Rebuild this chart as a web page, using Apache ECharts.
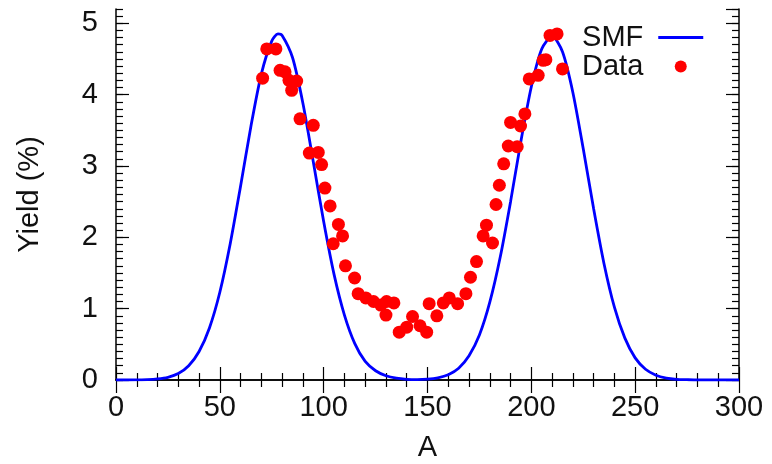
<!DOCTYPE html>
<html>
<head>
<meta charset="utf-8">
<script src="https://cdn.jsdelivr.net/npm/echarts@6/dist/echarts.min.js"></script>
<style>
  html, body { margin: 0; padding: 0; background: #fff; }
  #main { width: 772px; height: 464px; }
</style>
</head>
<body>
<div id="main"></div>
<script>
// SMF curve
var smfA = [0, 5, 10, 15, 20, 25, 30, 35, 40, 45, 50, 55, 60, 65, 70, 75, 78, 80, 85, 90, 95, 100,
  105, 110, 115, 120, 125, 130, 135, 140, 145, 150, 155, 160, 165, 170, 175, 180, 185, 190, 195,
  200, 205, 210, 215, 220, 225, 230, 235, 240, 245, 250, 255, 260, 265, 270, 275, 280, 285, 290, 295, 300];
var smfY = [0, 0, 0.002, 0.005, 0.015, 0.038, 0.09, 0.2, 0.4, 0.73, 1.23, 1.91, 2.72, 3.56, 4.29, 4.75, 4.85, 4.83, 4.52, 3.88, 3.06, 2.22,
  1.48, 0.91, 0.51, 0.26, 0.13, 0.06, 0.025, 0.01, 0.006, 0.012, 0.031, 0.074, 0.165, 0.34, 0.63, 1.09, 1.72, 2.5, 3.35,
  4.11, 4.64, 4.82, 4.6, 4.03, 3.24, 2.4, 1.63, 1.02, 0.59, 0.31, 0.15, 0.067, 0.027, 0.01, 0.004, 0, 0, 0, 0, 0];

// measured points
var dataA = [70.6, 72.6, 77.0, 79.0, 81.4, 83.3, 84.6, 87.0, 88.6, 93.1, 95.0, 97.4, 99.0, 100.6,
  103.1, 104.6, 107.1, 109.1, 110.5, 114.9, 116.6, 120.3, 124.0, 127.5, 130.3, 130.0, 133.8, 136.4,
  140.0, 142.8, 146.4, 149.6, 150.8, 154.5, 157.6, 160.5, 164.5, 168.5, 170.7, 173.6, 176.8, 178.4,
  181.3, 183.0, 184.6, 186.7, 188.9, 190.0, 193.2, 194.8, 196.9, 199.0, 203.3, 205.7, 207.0, 209.0, 212.4, 215.0];
var dataY = [4.23, 4.64, 4.64, 4.34, 4.32, 4.20, 4.06, 4.19, 3.66, 3.18, 3.57, 3.19, 3.02, 2.69,
  2.44, 1.91, 2.18, 2.02, 1.60, 1.43, 1.21, 1.15, 1.10, 1.05, 1.10, 0.91, 1.08, 0.67,
  0.74, 0.89, 0.76, 0.67, 1.07, 0.90, 1.08, 1.15, 1.07, 1.21, 1.44, 1.66, 2.02, 2.17,
  1.92, 2.46, 2.73, 3.03, 3.28, 3.61, 3.27, 3.56, 3.73, 4.22, 4.27, 4.48, 4.49, 4.83, 4.85, 4.36];

var xTicks = ['0', '50', '100', '150', '200', '250', '300'];
var yTicks = ['0', '1', '2', '3', '4', '5'];

var smfPts = smfA.map(function (a, i) { return [a, smfY[i]]; });
var dataPts = dataA.map(function (a, i) { return [a, dataY[i]]; });

var font = 'Liberation Sans, Arial, sans-serif';
var black = '#000';

var myChart = echarts.init(document.getElementById('main'));

function hiddenAxis(extra) {
  var ax = {
    type: 'value',
    axisLabel: { show: false },
    splitLine: { show: false },
    axisLine: { show: false },
    axisTick: { show: true, inside: true, length: 7, lineStyle: { color: black, width: 1.2 } }
  };
  for (var k in extra) ax[k] = extra[k];
  return ax;
}

option = {
  animation: false,
  textStyle: { fontFamily: font },
  grid: { left: 116, right: 33, top: 9, bottom: 84, outerBoundsMode: 'none' },
  legend: {
    orient: 'vertical',
    left: 577,
    top: 18,
    align: 'right',
    itemWidth: 45,
    itemHeight: 12,
    itemGap: 0,
    textStyle: { fontSize: 29, color: '#111', lineHeight: 28, padding: [0, 10, 0, 0] },
    data: [
      { name: 'SMF', icon: 'path://M0,0 L45,0 L45,3 L0,3 Z' },
      { name: 'Data', icon: 'circle' }
    ]
  },
  xAxis: [
    {
      type: 'value', min: 0, max: 300, interval: 50,
      name: 'A', nameLocation: 'middle', nameGap: 53,
      nameTextStyle: { fontSize: 29, color: '#111' },
      axisLine: { lineStyle: { color: black, width: 1.5 } },
      axisTick: { inside: true, length: 13, lineStyle: { color: black, width: 1.2 } },
      minorTick: { show: true, splitNumber: 5, length: 7, lineStyle: { color: black, width: 1.2 } },
      axisLabel: {
        fontSize: 29, color: '#111', margin: 13,
        formatter: function (v) { return xTicks[Math.round(v / 50)]; }
      },
      splitLine: { show: false }
    },
    {
      type: 'value', min: 0, max: 300, interval: 50, position: 'top',
      axisLine: { show: true, lineStyle: { color: black, width: 1.5 } },
      axisTick: { inside: true, length: 13, lineStyle: { color: black, width: 1.2 } },
      minorTick: { show: true, splitNumber: 5, length: 7, lineStyle: { color: black, width: 1.2 } },
      axisLabel: { show: false },
      splitLine: { show: false }
    }
  ],
  yAxis: [
    {
      type: 'value', min: 0, max: 5.2, interval: 1,
      name: 'Yield (%)', nameLocation: 'middle', nameGap: 72, nameRotate: 90,
      nameTextStyle: { fontSize: 29, color: '#111' },
      axisLine: { show: true, lineStyle: { color: black, width: 1.5 } },
      axisTick: { inside: true, length: 13, lineStyle: { color: black, width: 1.2 } },
      axisLabel: {
        fontSize: 29, color: '#111', margin: 18, showMaxLabel: false,
        formatter: function (v) { return yTicks[Math.round(v)] || ''; }
      },
      splitLine: { show: false }
    },
    hiddenAxis({ min: 0, max: 5.2, interval: 0.1, position: 'left' }),
    {
      type: 'value', min: 0, max: 5.2, interval: 1, position: 'right',
      axisLine: { show: true, lineStyle: { color: black, width: 1.5 } },
      axisTick: { inside: true, length: 13, lineStyle: { color: black, width: 1.2 } },
      axisLabel: { show: false },
      splitLine: { show: false }
    },
    hiddenAxis({ min: 0, max: 5.2, interval: 0.1, position: 'right' })
  ],
  series: [
    {
      name: 'SMF',
      type: 'line',
      data: smfPts,
      symbol: 'none',
      smooth: 0.25,
      color: '#0000ff',
      lineStyle: { color: '#0000ff', width: 2.8 },
      z: 3
    },
    {
      name: 'Data',
      type: 'scatter',
      data: dataPts,
      symbol: 'circle',
      symbolSize: 13,
      color: '#ff0000',
      itemStyle: { color: '#ff0000', opacity: 1 },
      z: 4
    }
  ]
};

if (option && typeof option === 'object') {
  myChart.setOption(option, true);
}
</script>
</body>
</html>
